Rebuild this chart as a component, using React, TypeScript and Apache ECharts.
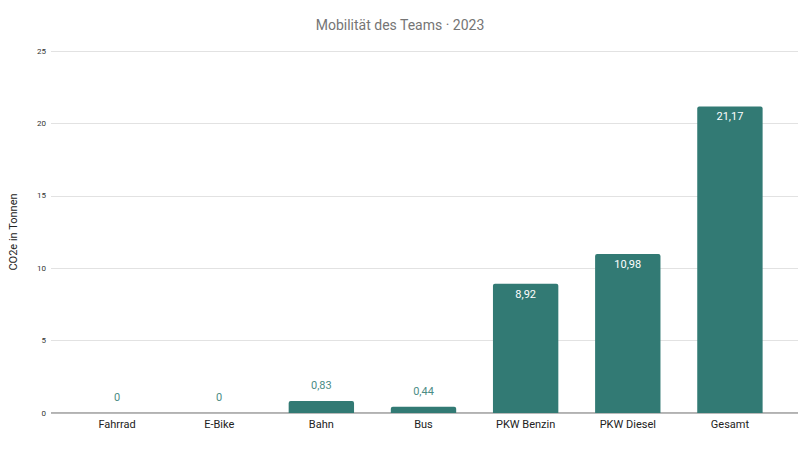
import React, { useEffect, useRef } from 'react';
import * as echarts from 'echarts';

const categories = ['Fahrrad', 'E-Bike', 'Bahn', 'Bus', 'PKW Benzin', 'PKW Diesel', 'Gesamt'];
const co2Values = [0, 0, 0.83, 0.44, 8.92, 10.98, 21.17];
const yTicks = [0, 5, 10, 15, 20, 25];

const BAR_COLOR = '#327a74';
const FONT = 'Roboto, "Noto Sans", sans-serif';

const fmt = (v: number) => String(v).replace('.', ',');

const App: React.FC = () => {
    const chartRef = useRef<HTMLDivElement>(null);

    useEffect(() => {
        if (!chartRef.current) return;
        document.body.style.margin = '0';
        const chart = echarts.init(chartRef.current, null, { renderer: 'svg' });

        const yMax = yTicks[yTicks.length - 1];

        // Balken mit Beschriftung innen (groß) oder oben (klein)
        const barData = co2Values.map((v) => ({
            value: v,
            label: v > 5
                ? { position: 'insideTop', distance: 5, color: '#ffffff' }
                : { position: 'top', distance: 10, color: '#4b8c85' },
        }));

        const option = {
            animation: false,
            textStyle: { fontFamily: FONT },
            title: {
                text: 'Mobilität des Teams · 2023',
                left: 'center',
                top: 13,
                textStyle: { fontFamily: FONT, fontSize: 14, fontWeight: 'normal', color: '#757575' },
            },
            grid: [
                { left: 49, right: 2, top: 51, bottom: 38 },
                { left: 66, right: 19, top: 51, bottom: 38 },
            ],
            xAxis: [
                {
                    gridIndex: 0,
                    type: 'value',
                    min: 0,
                    max: 1,
                    show: false,
                },
                {
                    gridIndex: 1,
                    type: 'category',
                    data: categories,
                    axisLine: { show: false },
                    axisTick: { show: false },
                    axisLabel: { color: '#222222', fontSize: 11, margin: 6, fontFamily: FONT },
                },
            ],
            yAxis: [
                {
                    gridIndex: 0,
                    type: 'value',
                    min: 0,
                    max: yMax,
                    interval: 5,
                    name: 'CO2e in Tonnen',
                    nameLocation: 'middle',
                    nameGap: 32,
                    nameTextStyle: { color: '#222222', fontSize: 11, fontFamily: FONT },
                    axisLine: { show: false },
                    axisTick: { show: false },
                    axisLabel: { color: '#333333', fontSize: 8, margin: 5, fontFamily: FONT },
                    splitLine: { lineStyle: { color: '#e2e2e2', width: 1 } },
                },
                {
                    gridIndex: 1,
                    type: 'value',
                    min: 0,
                    max: yMax,
                    interval: 5,
                    show: false,
                    splitLine: { show: false },
                },
            ],
            series: [
                {
                    // Grundlinie bei 0
                    type: 'line',
                    xAxisIndex: 0,
                    yAxisIndex: 0,
                    data: [[0, 0], [1, 0]],
                    symbol: 'none',
                    lineStyle: { color: '#999999', width: 1.5 },
                    silent: true,
                    z: 1,
                },
                {
                    type: 'bar',
                    xAxisIndex: 1,
                    yAxisIndex: 1,
                    data: barData,
                    barWidth: '64%',
                    itemStyle: { color: BAR_COLOR, borderRadius: [2, 2, 0, 0] },
                    label: {
                        show: true,
                        fontSize: 11,
                        fontFamily: FONT,
                        formatter: (p: any) => fmt(p.value),
                    },
                    z: 3,
                },
            ],
        };

        chart.setOption(option as any);
        return () => {
            chart.dispose();
        };
    }, []);

    return <div ref={chartRef} style={{ width: '800px', height: '451px' }} />;
};

export default App;
